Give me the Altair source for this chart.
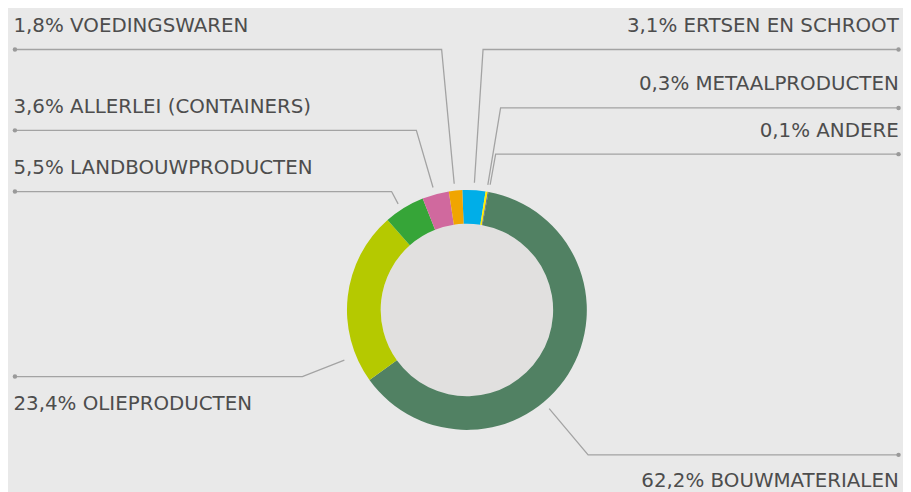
import math
import altair as alt
import pandas as pd

# ---------------- data ----------------
categories = ["ERTSEN EN SCHROOT", "METAALPRODUCTEN", "ANDERE", "BOUWMATERIALEN",
              "OLIEPRODUCTEN", "LANDBOUWPRODUCTEN", "ALLERLEI (CONTAINERS)", "VOEDINGSWAREN"]
shares = [3.1, 0.3, 0.1, 62.2, 23.4, 5.5, 3.6, 1.8]
share_labels = ["3,1%", "0,3%", "0,1%", "62,2%", "23,4%", "5,5%", "3,6%", "1,8%"]
colors = ["#00aee8", "#ffed00", "#4b4a8c", "#518163", "#b5c900", "#36a538", "#d0699e", "#f0a500"]

# ---------------- layout ----------------
W, H = 903, 484
CX, CY = 463, 302.5
R_OUT, R_IN = 121, 87
START_DEG = -2.2
BG = "#e9e9e9"
HOLE = "#e1e0df"
LINE = "#a3a3a3"
TEXT = "#4d4d4d"
FONT = "DejaVu Sans"
FS = 20

# side, text baseline y, leader y, elbow x, anchor angle offset, anchor radius
layout = {
    "ERTSEN EN SCHROOT":     ("right", 22.0, 39.7, 479.3, 0.0, 128.5),
    "METAALPRODUCTEN":       ("right", 81.0, 98.7, 497.0, 0.0, 128.0),
    "ANDERE":                ("right", 127.7, 145.3, 492.0, 0.3, 128.5),
    "BOUWMATERIALEN":        ("right", 481.5, 448.7, 585.3, 17.8, 129.6),
    "OLIEPRODUCTEN":         ("left", 403.7, 369.7, 297.0, -28.7, 133.6),
    "LANDBOUWPRODUCTEN":     ("left", 165.3, 183.0, 387.0, -1.4, 127.6),
    "ALLERLEI (CONTAINERS)": ("left", 103.7, 121.3, 412.0, -0.3, 128.2),
    "VOEDINGSWAREN":         ("left", 22.0, 39.7, 437.5, -0.3, 128.0),
}
DOT_L, DOT_R = 7.0, 898.5
TXT_L, TXT_R = 5.5, 898.7

# ---------------- tables ----------------
slices = pd.DataFrame({"cat": categories, "value": shares, "ord": list(range(len(categories)))})

total = sum(shares)
rows_line, rows_dot, rows_txt = [], [], []
cum = 0.0
for cat, v, lab in zip(categories, shares, share_labels):
    mid = START_DEG + (cum + v / 2) / total * 360.0
    cum += v
    side, ty, ly, ex, off, r = layout[cat]
    a = math.radians(mid + off)
    ax, ay = CX + r * math.sin(a), CY - r * math.cos(a)
    dx = DOT_L if side == "left" else DOT_R
    rows_line += [
        {"cat": cat, "k": 0, "px": dx, "py": ly},
        {"cat": cat, "k": 1, "px": ex, "py": ly},
        {"cat": cat, "k": 2, "px": ax, "py": ay},
    ]
    rows_dot.append({"cat": cat, "px": dx, "py": ly})
    rows_txt.append({"cat": cat, "side": side, "txt": f"{lab} {cat}",
                     "px": TXT_L if side == "left" else TXT_R, "py": ty})

lines_df = pd.DataFrame(rows_line)
dots_df = pd.DataFrame(rows_dot)
txt_df = pd.DataFrame(rows_txt)

xs = alt.Scale(domain=[0, W], range=[0, W], nice=False, zero=False)
ys = alt.Scale(domain=[0, H], range=[0, H], nice=False, zero=False)
X = alt.X("px:Q", scale=xs, axis=None)
Y = alt.Y("py:Q", scale=ys, axis=None)

two_pi = 2 * math.pi
start = two_pi + math.radians(START_DEG)

hole = alt.Chart(pd.DataFrame({"v": [1]})).mark_arc(
    outerRadius=R_IN, innerRadius=0, fill=HOLE
).encode(
    theta=alt.Theta("v:Q", scale=alt.Scale(range=[0, two_pi]), stack=True),
    x=alt.value(CX), y=alt.value(CY),
)

donut = alt.Chart(slices).mark_arc(outerRadius=R_OUT, innerRadius=R_IN).encode(
    theta=alt.Theta("value:Q", stack=True, scale=alt.Scale(range=[start, start + two_pi])),
    order=alt.Order("ord:Q"),
    color=alt.Color("cat:N", scale=alt.Scale(domain=categories, range=colors), legend=None),
    x=alt.value(CX), y=alt.value(CY),
)

leaders = alt.Chart(lines_df).mark_line(color=LINE, strokeWidth=1.3).encode(
    x=X, y=Y, detail="cat:N", order="k:Q"
)

dots = alt.Chart(dots_df).mark_circle(color="#9a9a9a", size=20, opacity=1).encode(x=X, y=Y)

txt_left = alt.Chart(txt_df[txt_df.side == "left"]).mark_text(
    align="left", baseline="alphabetic", font=FONT, fontSize=FS, color=TEXT
).encode(x=X, y=Y, text="txt:N")

txt_right = alt.Chart(txt_df[txt_df.side == "right"]).mark_text(
    align="right", baseline="alphabetic", font=FONT, fontSize=FS, color=TEXT
).encode(x=X, y=Y, text="txt:N")

chart = alt.layer(hole, donut, leaders, dots, txt_left, txt_right).resolve_scale(
    theta="independent"
).properties(
    width=W, height=H, padding=0, autosize="none", background=BG
).configure_view(stroke=None)

chart.save("out.html", embed_options={"renderer": "svg", "actions": False})
